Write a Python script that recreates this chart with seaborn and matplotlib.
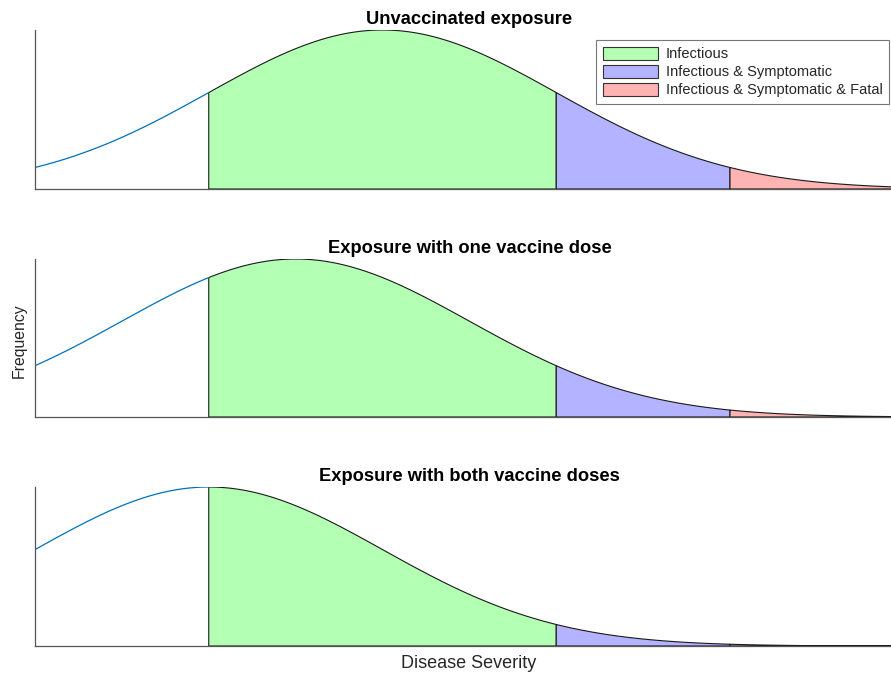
import numpy as np
import pandas as pd
import matplotlib
matplotlib.use("Agg")
import matplotlib.pyplot as plt
import seaborn as sns
from matplotlib.patches import Patch

sns.set_theme(style="white")
plt.rcParams["font.family"] = ["Liberation Sans", "DejaVu Sans"]

# Severity distributions for each exposure scenario (normal curves, unit spread)
titles = ["Unvaccinated exposure",
          "Exposure with one vaccine dose",
          "Exposure with both vaccine doses"]
means = [2.0, 1.5, 1.0]
spread = 1.0
# Severity thresholds: infectious, symptomatic, fatal
thresholds = [1.0, 3.0, 4.0]
x_max = 5.0
band_labels = ["Infectious", "Infectious & Symptomatic", "Infectious & Symptomatic & Fatal"]
band_colors = ["#b3ffb3", "#b3b3ff", "#ffb3b3"]
curve_color = "#0072BD"

fig = plt.figure(figsize=(8.91, 6.73), dpi=100)
W, H = 891, 673
panel_px = [(30, 189), (259, 417), (487, 646)]
left_px, right_px = 35, 903.75   # right end runs slightly past the canvas edge

axes = []
for top, bottom in panel_px:
    ax = fig.add_axes([left_px / W, 1 - bottom / H, (right_px - left_px) / W, (bottom - top) / H])
    axes.append(ax)

edges = thresholds + [x_max]
for ax, title, mu in zip(axes, titles, means):
    x = np.linspace(0, x_max, 800)
    y = np.exp(-0.5 * ((x - mu) / spread) ** 2)
    df = pd.DataFrame({"severity": x, "frequency": y})
    below = df[df["severity"] <= thresholds[0]]
    sns.lineplot(data=below, x="severity", y="frequency", ax=ax,
                 color=curve_color, lw=0.9, estimator=None, sort=False)
    for i in range(3):
        lo, hi = edges[i], edges[i + 1]
        xs = np.linspace(lo, hi, 300)
        ys = np.exp(-0.5 * ((xs - mu) / spread) ** 2)
        px = np.concatenate([[lo], xs, [hi]])
        py = np.concatenate([[0], ys, [0]])
        ax.fill(px, py, facecolor=band_colors[i], edgecolor="#1a1a1a", lw=0.8,
                label=band_labels[i])
    ax.set_xlim(0, x_max)
    ax.set_ylim(0, 1)
    ax.set_xticks([])
    ax.set_yticks([])
    ax.set_xlabel("")
    ax.set_ylabel("")
    for side in ["top", "right"]:
        ax.spines[side].set_visible(False)
    for side in ["left", "bottom"]:
        ax.spines[side].set_color("#555555")
        ax.spines[side].set_linewidth(0.9)
    ax.set_title(title, fontsize=13.2, fontweight="bold", pad=4, color="black")

axw = right_px - left_px
handles = [Patch(facecolor=c, edgecolor="#333333", lw=0.8) for c in band_colors]
leg = axes[0].legend(handles, band_labels, loc="upper right",
                     bbox_to_anchor=((889 - left_px) / axw, 1 - 10 / 159),
                     fontsize=10.5, frameon=True, fancybox=False, handlelength=3.8,
                     handleheight=1.0, handletextpad=0.5, labelspacing=0.25,
                     borderpad=0.45, borderaxespad=0.0)
leg.get_frame().set_edgecolor("#555555")
leg.get_frame().set_linewidth(0.8)

fig.text(19 / W, 1 - 341 / H, "Frequency", rotation=90, ha="center", va="center",
         fontsize=11.3, color="#262626")
fig.text(469 / W, 1 - 664 / H, "Disease Severity", ha="center", va="center",
         fontsize=13, color="#262626")

fig.savefig("out.png", dpi=100)
